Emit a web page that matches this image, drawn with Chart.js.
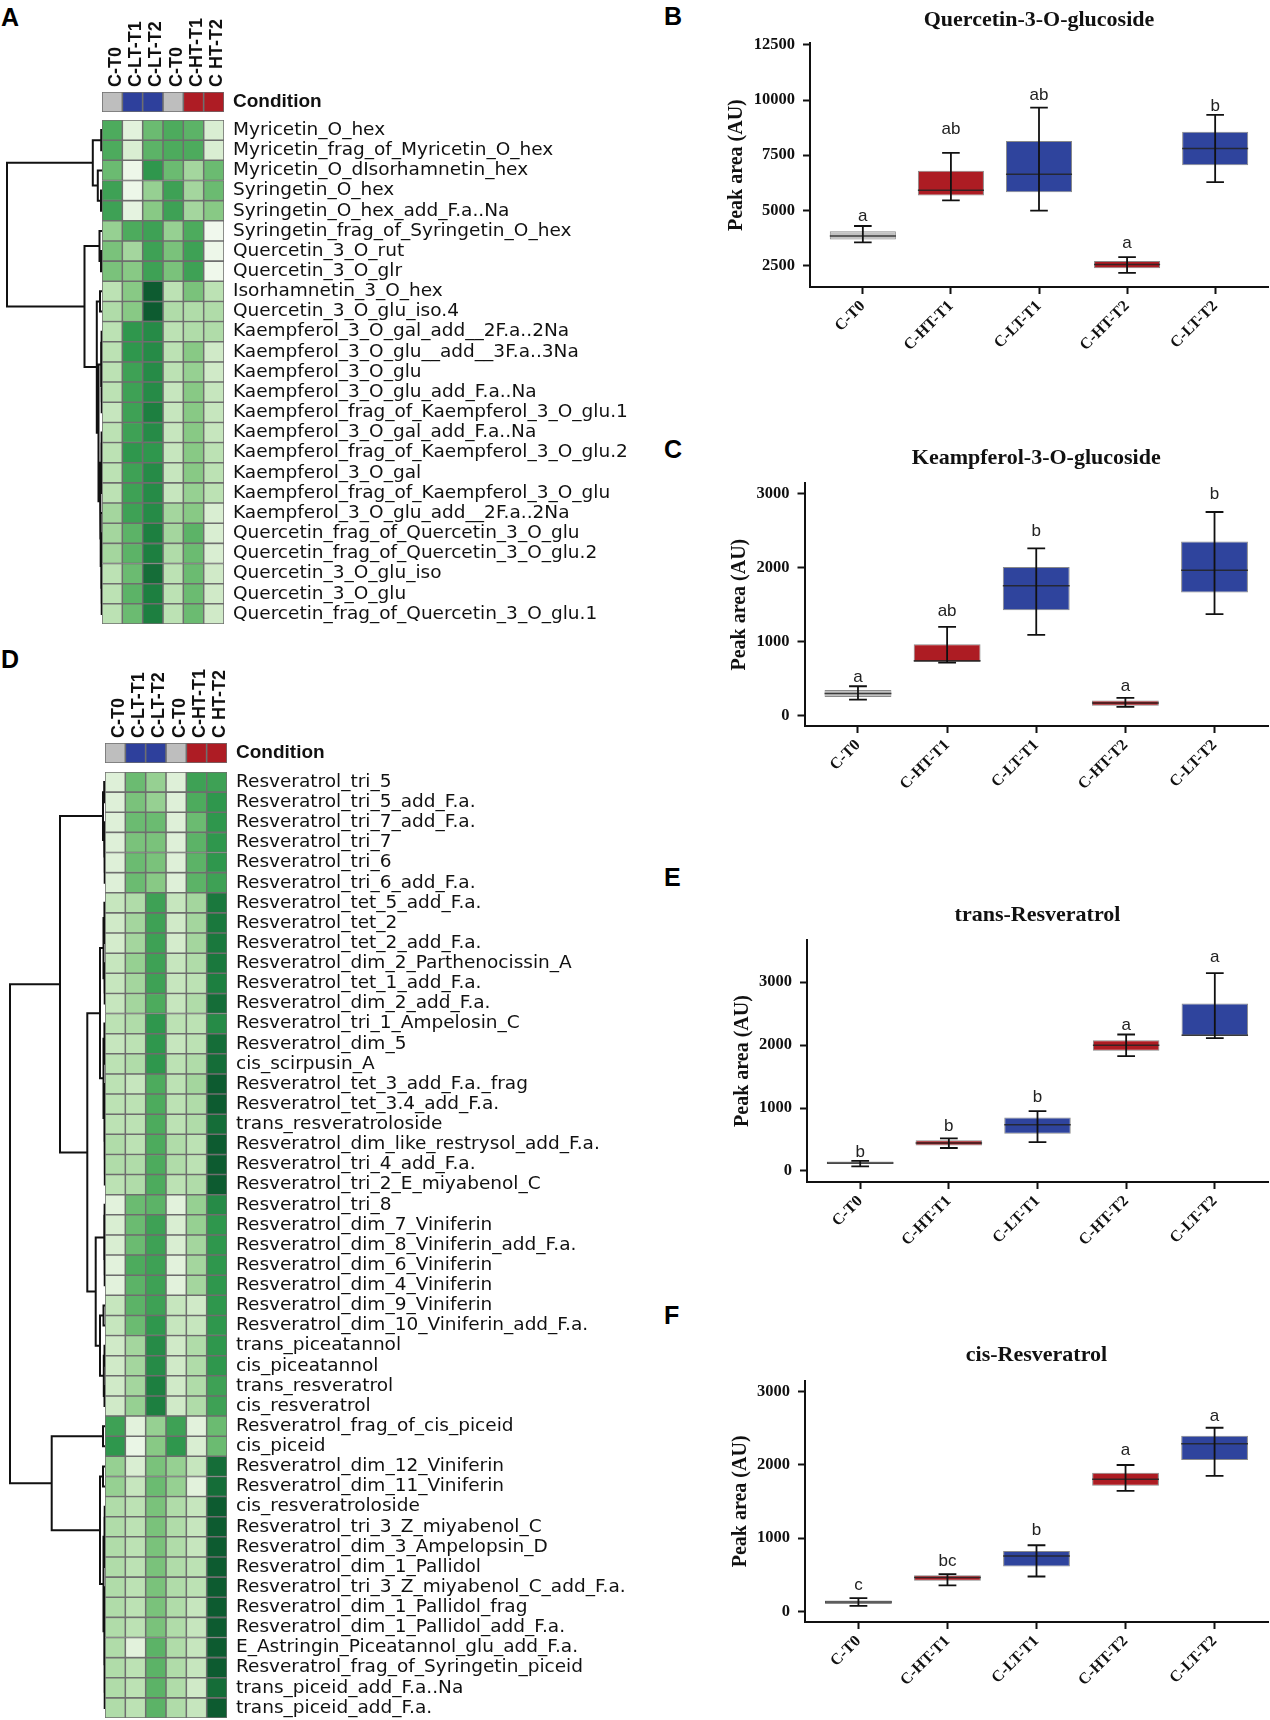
<!DOCTYPE html>
<html>
<head>
<meta charset="utf-8">
<script src="https://cdn.jsdelivr.net/npm/chart.js@4.4.1/dist/chart.umd.min.js"></script>
<style>
  body { margin: 0; width: 1270px; height: 1720px; overflow: hidden; background: #fff; position: relative; }
  .slot { position: absolute; }
  .slot canvas { display: block; }
  .tag { position: absolute; font: bold 25px 'Liberation Sans', Arial, sans-serif; line-height: 1; color: #000; }
</style>
</head>
<body>
<div class="tag" style="left:1px;top:4.7px">A</div>
<div class="tag" style="left:1px;top:646.7px">D</div>
<div class="tag" style="left:664px;top:3.7px">B</div>
<div class="tag" style="left:664px;top:436.7px">C</div>
<div class="tag" style="left:664px;top:865px">E</div>
<div class="tag" style="left:664px;top:1303.4px">F</div>
<script>
// ---- heatmaps ----
const colLabels = ['C-T0', 'C-LT-T1', 'C-LT-T2', 'C-T0', 'C-HT-T1', 'C HT-T2'];
const colCondition = ['C', 'LT', 'LT', 'C', 'HT', 'HT'];

const rowsA = [
  'Myricetin_O_hex', 'Myricetin_frag_of_Myricetin_O_hex', 'Myricetin_O_dIsorhamnetin_hex',
  'Syringetin_O_hex', 'Syringetin_O_hex_add_F.a..Na', 'Syringetin_frag_of_Syringetin_O_hex',
  'Quercetin_3_O_rut', 'Quercetin_3_O_glr', 'Isorhamnetin_3_O_hex', 'Quercetin_3_O_glu_iso.4',
  'Kaempferol_3_O_gal_add__2F.a..2Na', 'Kaempferol_3_O_glu__add__3F.a..3Na', 'Kaempferol_3_O_glu',
  'Kaempferol_3_O_glu_add_F.a..Na', 'Kaempferol_frag_of_Kaempferol_3_O_glu.1', 'Kaempferol_3_O_gal_add_F.a..Na',
  'Kaempferol_frag_of_Kaempferol_3_O_glu.2', 'Kaempferol_3_O_gal', 'Kaempferol_frag_of_Kaempferol_3_O_glu',
  'Kaempferol_3_O_glu_add__2F.a..2Na', 'Quercetin_frag_of_Quercetin_3_O_glu', 'Quercetin_frag_of_Quercetin_3_O_glu.2',
  'Quercetin_3_O_glu_iso', 'Quercetin_3_O_glu', 'Quercetin_frag_of_Quercetin_3_O_glu.1'
];
// shade level per cell (0 = lightest, 10 = darkest), columns as colLabels
const levelsA = [
  [7, 1, 6, 7, 6.5, 1.5], [7, 1.5, 6.5, 7, 7, 1.5], [6, 0.3, 8, 6, 4, 6], [7.5, 0.3, 4.5, 7.5, 4, 6],
  [7.5, 0.8, 5, 7.5, 4, 5], [4.5, 7, 7.5, 4.5, 7, 0.1], [5.5, 4, 7.5, 5.5, 7.5, 0.3], [5.5, 5, 7.5, 5.5, 7.5, 0.2],
  [3, 5, 10, 3, 5.5, 3], [3.5, 5, 10, 3.5, 3.5, 3.5], [3, 8, 8.5, 3, 3.5, 3.5], [3, 8, 8.5, 3, 5, 2],
  [3, 7.5, 8.5, 3, 4.5, 2], [3, 7.5, 8.5, 2.5, 5, 2.5], [2.5, 7.5, 9, 2.5, 5, 2.5], [3, 7.5, 8.5, 2.5, 5, 2.5],
  [3, 8, 8, 2.5, 5, 3], [3, 7.5, 8.5, 2.5, 5, 3], [3, 7.5, 8.5, 2.5, 4.5, 3], [4, 7.5, 8.5, 4, 5, 1.5],
  [4, 6.5, 9, 4, 6.5, 1.5], [4, 6.5, 9, 3.5, 6, 1.5], [3, 6, 9.5, 3, 6, 2], [3, 6.5, 9, 3, 6, 2],
  [3, 6, 9, 3, 6, 2]
];
// dendrogram: [left, right, height], leaves are row indices
const treeA = [
  [[0, 1, 0.8], [2, [3, 4, 1], 4.2], 9.2],
  [[5, [6, 7, 1], 2.5],
   [[8, 9, 2],
    [[[10, 11, 0.4], [12, [13, 14, 0.3], 0.5], 1],
     [[[15, 16, 0.4], [17, 18, 0.3], 0.7], [19, [[20, 21, 0.4], [22, [23, 24, 0.3], 0.5], 0.8], 1.3], 2], 3.5],
    5.2], 17.5],
  95
];

const rowsD = [
  'Resveratrol_tri_5', 'Resveratrol_tri_5_add_F.a.', 'Resveratrol_tri_7_add_F.a.', 'Resveratrol_tri_7',
  'Resveratrol_tri_6', 'Resveratrol_tri_6_add_F.a.', 'Resveratrol_tet_5_add_F.a.', 'Resveratrol_tet_2',
  'Resveratrol_tet_2_add_F.a.', 'Resveratrol_dim_2_Parthenocissin_A', 'Resveratrol_tet_1_add_F.a.',
  'Resveratrol_dim_2_add_F.a.', 'Resveratrol_tri_1_Ampelosin_C', 'Resveratrol_dim_5', 'cis_scirpusin_A',
  'Resveratrol_tet_3_add_F.a._frag', 'Resveratrol_tet_3.4_add_F.a.', 'trans_resveratroloside',
  'Resveratrol_dim_like_restrysol_add_F.a.', 'Resveratrol_tri_4_add_F.a.', 'Resveratrol_tri_2_E_miyabenol_C',
  'Resveratrol_tri_8', 'Resveratrol_dim_7_Viniferin', 'Resveratrol_dim_8_Viniferin_add_F.a.',
  'Resveratrol_dim_6_Viniferin', 'Resveratrol_dim_4_Viniferin', 'Resveratrol_dim_9_Viniferin',
  'Resveratrol_dim_10_Viniferin_add_F.a.', 'trans_piceatannol', 'cis_piceatannol', 'trans_resveratrol',
  'cis_resveratrol', 'Resveratrol_frag_of_cis_piceid', 'cis_piceid', 'Resveratrol_dim_12_Viniferin',
  'Resveratrol_dim_11_Viniferin', 'cis_resveratroloside', 'Resveratrol_tri_3_Z_miyabenol_C',
  'Resveratrol_dim_3_Ampelopsin_D', 'Resveratrol_dim_1_Pallidol', 'Resveratrol_tri_3_Z_miyabenol_C_add_F.a.',
  'Resveratrol_dim_1_Pallidol_frag', 'Resveratrol_dim_1_Pallidol_add_F.a.', 'E_Astringin_Piceatannol_glu_add_F.a.',
  'Resveratrol_frag_of_Syringetin_piceid', 'trans_piceid_add_F.a..Na', 'trans_piceid_add_F.a.'
];
const levelsD = [
  [1.2, 6, 4.5, 1.2, 7.5, 7.5], [1.2, 5.5, 4.5, 1.2, 7, 8], [1.2, 6, 6, 1.2, 6, 8], [1.2, 5.5, 5.5, 1.2, 6.5, 8],
  [1.2, 6, 5.5, 1.2, 6.5, 8], [1.2, 6, 5, 1.2, 6.5, 7.5], [2.5, 3.5, 7.5, 2.5, 4, 9.2], [2, 4, 7.5, 2, 4, 9.2],
  [1.8, 4, 7.5, 1.8, 4, 9.2], [2.5, 4.5, 7.5, 2.5, 3.5, 9.2], [2.5, 4, 7.5, 2.5, 3, 9], [2.5, 4, 7, 2.5, 3.5, 9.5],
  [3, 3.5, 8, 3, 3, 8.5], [2.5, 3, 8, 2.5, 3, 9.5], [3, 3.5, 8, 3, 3.5, 9.5], [3, 2.5, 7, 3, 4, 10],
  [3, 3, 7, 3, 3.5, 10], [3, 3, 7, 3, 3.5, 9.5], [3.5, 3, 7, 3.5, 3, 10], [3.5, 3.5, 7, 3.5, 3, 10],
  [3, 3.5, 7, 3, 3.5, 10], [1, 6, 6.5, 1, 4.5, 8.5], [1.5, 6, 7.5, 1.5, 4.5, 8], [1.5, 6, 7.5, 1.5, 4, 8],
  [1, 7, 7.5, 1, 4, 8], [1, 6.5, 7.5, 1, 4, 8], [2.5, 6.5, 7.5, 2.5, 2, 8], [2.5, 6, 8, 2.5, 2.5, 8],
  [2, 4, 8.5, 2, 3.5, 8], [2, 4, 8.5, 2, 3.5, 8], [2, 4, 9, 2, 3.5, 7.5], [2, 4.5, 9, 2, 3.5, 7.5],
  [7.5, 1, 4.5, 7.5, 1, 6], [8, 0.5, 5, 8, 1.5, 6], [4.5, 1.5, 5.5, 4.5, 2.5, 9.5], [4.5, 2.5, 6, 4.5, 1, 9.5],
  [3.5, 3, 5.5, 3.5, 2.5, 10], [3.5, 3, 5.5, 3.5, 2.5, 10], [3.5, 3, 5.5, 3.5, 2.5, 10], [3.5, 3, 5.5, 3.5, 3, 10],
  [3.5, 3, 5.5, 3.5, 3, 10], [3.5, 3, 5.5, 3.5, 2.5, 10], [3.5, 3, 5.5, 3.5, 2.5, 10], [3.5, 1, 6.5, 3.5, 2.5, 10],
  [3.5, 3, 6.5, 3.5, 2.5, 10], [3.5, 3, 6.5, 3.5, 2, 9.5], [3.5, 3, 6.5, 3.5, 2.5, 10]
];
const treeD = [
  [[[0, 1, 0.8], [2, [3, [4, 5, 0.3], 0.5], 0.9], 2],
   [[[[6, [7, 8, 0.3], 0.6], [9, [10, 11, 0.3], 0.6], 1.5],
     [[12, [13, 14, 0.3], 0.6], [[15, 16, 0.3], [17, [18, [19, 20, 0.2], 0.3], 0.4], 0.6], 1.5], 5],
    [[[21, 22, 0.4], [23, [24, 25, 0.3], 0.5], 0.8],
     [[26, 27, 1.5], [[28, 29, 0.5], [30, 31, 0.5], 1.2], 5], 9.3], 17.7],
   45],
  [[32, 33, 2],
   [[34, 35, 2],
    [[[36, 37, 0.3], [38, 39, 0.3], 0.6], [[40, 41, 0.3], [[42, 43, 0.3], [[44, 45, 0.2], 46, 0.3], 0.5], 0.7], 1.5], 5],
   53.3],
  95
];

// ---- box plots ----
const groups = ['C-T0', 'C-HT-T1', 'C-LT-T1', 'C-HT-T2', 'C-LT-T2'];
const groupCondition = ['C', 'HT', 'LT', 'HT', 'LT'];

const quercetinLow = [3550, 5450, 4990, 2160, 6275];
const quercetinQ1 = [3680, 5670, 5820, 2370, 7050];
const quercetinMedian = [3830, 5910, 6640, 2540, 7810];
const quercetinQ3 = [4050, 6790, 8140, 2700, 8570];
const quercetinHigh = [4290, 7610, 9660, 2880, 9330];
const quercetinLetters = ['a', 'ab', 'ab', 'a', 'b'];
const quercetinLetterAt = [4750, 8670, 10200, 3510, 9730];
const quercetinTicks = [2500, 5000, 7500, 10000, 12500];

const kaempferolLow = [213, 715, 1090, 113, 1371];
const kaempferolQ1 = [249, 724, 1425, 131, 1665];
const kaempferolMedian = [294, 740, 1756, 167, 1968];
const kaempferolQ3 = [344, 964, 2009, 199, 2357];
const kaempferolHigh = [394, 1199, 2262, 235, 2756];
const kaempferolLetters = ['a', 'ab', 'b', 'a', 'b'];
const kaempferolLetterAt = [520, 1403, 2489, 394, 3000];

const transLow = [74, 365, 460, 1825, 2111];
const transQ1 = [111, 407, 593, 1910, 2148];
const transMedian = [127, 444, 735, 2000, 2159];
const transQ3 = [150, 487, 852, 2079, 2661];
const transHigh = [160, 519, 952, 2169, 3143];
const transLetters = ['b', 'b', 'b', 'a', 'a'];
const transLetterAt = [296, 709, 1169, 2323, 3392];

const cisLow = [77, 354, 476, 1642, 1846];
const cisQ1 = [100, 417, 612, 1714, 2063];
const cisMedian = [127, 463, 757, 1800, 2286];
const cisQ3 = [150, 494, 825, 1891, 2395];
const cisHigh = [181, 508, 902, 1995, 2503];
const cisLetters = ['c', 'bc', 'b', 'a', 'a'];
const cisLetterAt = [354, 680, 1102, 2190, 2662];

const resTicks = [0, 1000, 2000, 3000];

// ---- styling ----
const greens = ['#f2f9ef', '#e2f2dc', '#d0eac8', '#bce2b4', '#a4d69e', '#88c985',
                '#6bbb71', '#4dab5d', '#2f974d', '#1d7f40', '#0d5b30'];
const conditionColor = { C: '#bebebe', LT: '#2e409c', HT: '#ae1c24' };
const boxFill = { C: '#c2c2c2', LT: '#2f449d', HT: '#ad1c23' };
const gridGrey = '#6e6e6e';

Chart.defaults.font.family = "'Liberation Sans', Arial, sans-serif";
Chart.defaults.color = '#111';

function slot(left, top, w, h) {
  const d = document.createElement('div');
  d.className = 'slot';
  d.style.left = left + 'px';
  d.style.top = top + 'px';
  const c = document.createElement('canvas');
  c.width = w; c.height = h;
  c.style.width = w + 'px'; c.style.height = h + 'px';
  d.appendChild(c);
  document.body.appendChild(d);
  return c;
}

// keep the plot area exactly where the layout puts it (no label overhang padding)
function fixBox(s, size) {
  if (s.isHorizontal()) s.height = size; else s.width = size;
  s.paddingTop = s.paddingBottom = s.paddingLeft = s.paddingRight = 0;
}

function rgb(h) { return [1, 3, 5].map(i => parseInt(h.slice(i, i + 2), 16)); }
function shade(v) {
  const k = Math.max(0, Math.min(greens.length - 1.0001, v));
  const i = Math.floor(k), t = k - i;
  const a = rgb(greens[i]), b = rgb(greens[i + 1]);
  return 'rgb(' + a.map((c, j) => Math.round(c + (b[j] - c) * t)).join(',') + ')';
}

const quiet = { legend: { display: false }, tooltip: { enabled: false } };

function cellChart(canvas, rows, colors, labelWidth, labelFont, topAxisHeight) {
  return new Chart(canvas, {
    type: 'bar',
    data: {
      labels: rows,
      datasets: colLabels.map((c, j) => ({
        data: rows.map(() => [j, j + 1]),
        backgroundColor: colors.map(r => r[j]),
        borderColor: gridGrey,
        borderWidth: 1.1,
        borderSkipped: false,
        barPercentage: 1,
        categoryPercentage: 1,
        grouped: false
      }))
    },
    options: {
      indexAxis: 'y', responsive: false, animation: false, events: [],
      layout: { padding: 0 },
      plugins: quiet,
      scales: {
        x: topAxisHeight ? {
          type: 'linear', min: 0, max: 6, position: 'top',
          afterBuildTicks: s => { s.ticks = colLabels.map((c, j) => ({ value: j + 0.5 })); },
          afterFit: s => fixBox(s, topAxisHeight),
          grid: { display: false, drawTicks: false }, border: { display: false },
          ticks: { autoSkip: false, minRotation: 90, maxRotation: 90, padding: 5, labelOffset: 25,
                   color: '#111', font: { weight: 'bold', size: 18 }, callback: (v, i) => colLabels[i] }
        } : { type: 'linear', min: 0, max: 6, display: false },
        y: {
          position: 'right',
          afterFit: s => fixBox(s, labelWidth),
          grid: { display: false, drawTicks: false }, border: { display: false },
          ticks: { autoSkip: false, padding: 9, color: '#111', font: labelFont }
        }
      }
    }
  });
}

function dendroChart(canvas, tree, nRows, span) {
  const pts = [];
  (function walk(n) {
    if (typeof n === 'number') return { y: n, h: 0 };
    const a = walk(n[0]), b = walk(n[1]);
    pts.push({ x: a.h, y: a.y }, { x: n[2], y: a.y }, { x: n[2], y: b.y }, { x: b.h, y: b.y }, { x: null, y: null });
    return { y: (a.y + b.y) / 2, h: n[2] };
  })(tree);
  return new Chart(canvas, {
    type: 'line',
    data: { datasets: [{ data: pts, borderColor: '#111', borderWidth: 2, pointRadius: 0,
                         spanGaps: false, tension: 0, borderJoinStyle: 'miter', clip: false }] },
    options: {
      responsive: false, animation: false, events: [], layout: { padding: 0 }, plugins: quiet,
      scales: {
        x: { type: 'linear', min: 0, max: span, reverse: true, display: false },
        y: { type: 'linear', min: -0.5, max: nRows - 0.5, reverse: true, display: false }
      }
    }
  });
}

function heatmap(rows, levels, tree, left, condTop, cellTop, cellH, dendroW) {
  const condColors = [colCondition.map(c => conditionColor[c])];
  cellChart(slot(left, condTop - 80, 340, 100), ['Condition'], condColors, 340 - 122,
            { weight: 'bold', size: 19 }, 80);
  cellChart(slot(left, cellTop, 560, cellH), rows, levels.map(r => r.map(shade)), 560 - 122,
            { family: "'DejaVu Sans', sans-serif", size: 18.5 }, 0);
  dendroChart(slot(0, cellTop, dendroW, cellH), tree, rows.length, dendroW);
}

heatmap(rowsA, levelsA, treeA, 102, 92, 120, 504, 102);
heatmap(rowsD, levelsD, treeD, 105, 743, 772, 946, 105);

// whiskers, medians and letters on top of the boxes
const boxExtras = {
  id: 'boxExtras',
  afterDatasetsDraw(chart, args, o) {
    const { ctx } = chart, x = chart.scales.x, y = chart.scales.y;
    const bars = chart.getDatasetMeta(0).data;
    const cap = x.getPixelForValue(0.1) - x.getPixelForValue(0);
    ctx.save();
    groups.forEach((g, i) => {
      const cx = x.getPixelForValue(i), half = bars[i].width / 2;
      const ym = y.getPixelForValue(o.med[i]), yl = y.getPixelForValue(o.lo[i]), yh = y.getPixelForValue(o.hi[i]);
      ctx.strokeStyle = 'rgba(35,35,35,0.85)'; ctx.lineWidth = 1.5;
      ctx.beginPath(); ctx.moveTo(cx - half, ym); ctx.lineTo(cx + half, ym); ctx.stroke();
      ctx.strokeStyle = '#111'; ctx.lineWidth = 1.8;
      ctx.beginPath();
      ctx.moveTo(cx, yl); ctx.lineTo(cx, yh);
      ctx.moveTo(cx - cap, yl); ctx.lineTo(cx + cap, yl);
      ctx.moveTo(cx - cap, yh); ctx.lineTo(cx + cap, yh);
      ctx.stroke();
      ctx.fillStyle = '#222'; ctx.font = "17px 'Liberation Sans', Arial, sans-serif";
      ctx.textAlign = 'center'; ctx.textBaseline = 'middle';
      ctx.fillText(o.letters[i], cx, y.getPixelForValue(o.letterAt[i]));
    });
    ctx.restore();
  }
};

const serif = "'Liberation Serif', 'Times New Roman', serif";
function boxChart(top, height, p) {
  return new Chart(slot(640, top, 630, height), {
    type: 'bar',
    data: {
      datasets: [{
        data: groups.map((g, i) => ({ x: i, y: [p.q1[i], p.q3[i]] })),
        backgroundColor: groupCondition.map(c => boxFill[c]),
        borderColor: 'rgba(125,125,125,0.9)', borderWidth: 1, borderSkipped: false,
        barPercentage: 0.75, categoryPercentage: 1
      }]
    },
    options: {
      responsive: false, animation: false, events: [],
      layout: { padding: { left: 0, right: 2, top: 0, bottom: 0 } },
      plugins: {
        ...quiet,
        title: { display: true, text: p.title, fullSize: false, color: '#111',
                 font: { family: serif, size: 22, weight: 'bold', lineHeight: 1.2 },
                 padding: { top: p.titleTop, bottom: p.titleBottom } },
        boxExtras: { lo: p.lo, med: p.med, hi: p.hi, letters: p.letters, letterAt: p.letterAt }
      },
      scales: {
        x: {
          type: 'linear', min: -0.6, max: 4.6, offset: false,
          afterBuildTicks: s => { s.ticks = groups.map((g, i) => ({ value: i })); },
          afterFit: s => fixBox(s, 90),
          grid: { offset: false, drawOnChartArea: false, tickLength: 7, tickWidth: 2, tickColor: '#111' },
          border: { color: '#111', width: 2 },
          ticks: { autoSkip: false, minRotation: 45, maxRotation: 45, padding: 3, color: '#111',
                   font: { family: serif, weight: 'bold', size: 16 }, callback: (v, i) => groups[i] }
        },
        y: {
          min: p.min, max: p.max,
          afterBuildTicks: s => { s.ticks = p.ticks.map(v => ({ value: v })); },
          afterFit: s => fixBox(s, p.axisWidth),
          grid: { drawOnChartArea: false, tickLength: 7, tickWidth: 2, tickColor: '#111' },
          border: { color: '#111', width: 2 },
          ticks: { padding: 8, color: '#111', font: { family: serif, weight: 'bold', size: 16.5 },
                   callback: v => String(v) },
          title: { display: true, text: 'Peak area (AU)', color: '#111',
                   font: { family: serif, weight: 'bold', size: 20, lineHeight: 1.2 },
                   padding: { top: p.yTitleLeft, bottom: 0 } }
        }
      }
    },
    plugins: [boxExtras]
  });
}

boxChart(0, 377, {
  title: 'Quercetin-3-O-glucoside', titleTop: 6.8, titleBottom: 10.1, axisWidth: 170, yTitleLeft: 85,
  min: 1522, max: 12577, ticks: quercetinTicks,
  lo: quercetinLow, q1: quercetinQ1, med: quercetinMedian, q3: quercetinQ3, hi: quercetinHigh,
  letters: quercetinLetters, letterAt: quercetinLetterAt
});
boxChart(430, 386, {
  title: 'Keampferol-3-O-glucoside', titleTop: 15.1, titleBottom: 11.8, axisWidth: 164.5, yTitleLeft: 88,
  min: -145, max: 3145, ticks: resTicks,
  lo: kaempferolLow, q1: kaempferolQ1, med: kaempferolMedian, q3: kaempferolQ3, hi: kaempferolHigh,
  letters: kaempferolLetters, letterAt: kaempferolLetterAt
});
boxChart(870, 402, {
  title: 'trans-Resveratrol', titleTop: 31.8, titleBottom: 11.8, axisWidth: 167, yTitleLeft: 91,
  min: -175, max: 3671, ticks: resTicks,
  lo: transLow, q1: transQ1, med: transMedian, q3: transQ3, hi: transHigh,
  letters: transLetters, letterAt: transLetterAt
});
boxChart(1310, 402, {
  title: 'cis-Resveratrol', titleTop: 31.8, titleBottom: 12.5, axisWidth: 165, yTitleLeft: 89,
  min: -144, max: 3144, ticks: resTicks,
  lo: cisLow, q1: cisQ1, med: cisMedian, q3: cisQ3, hi: cisHigh,
  letters: cisLetters, letterAt: cisLetterAt
});
</script>
</body>
</html>
